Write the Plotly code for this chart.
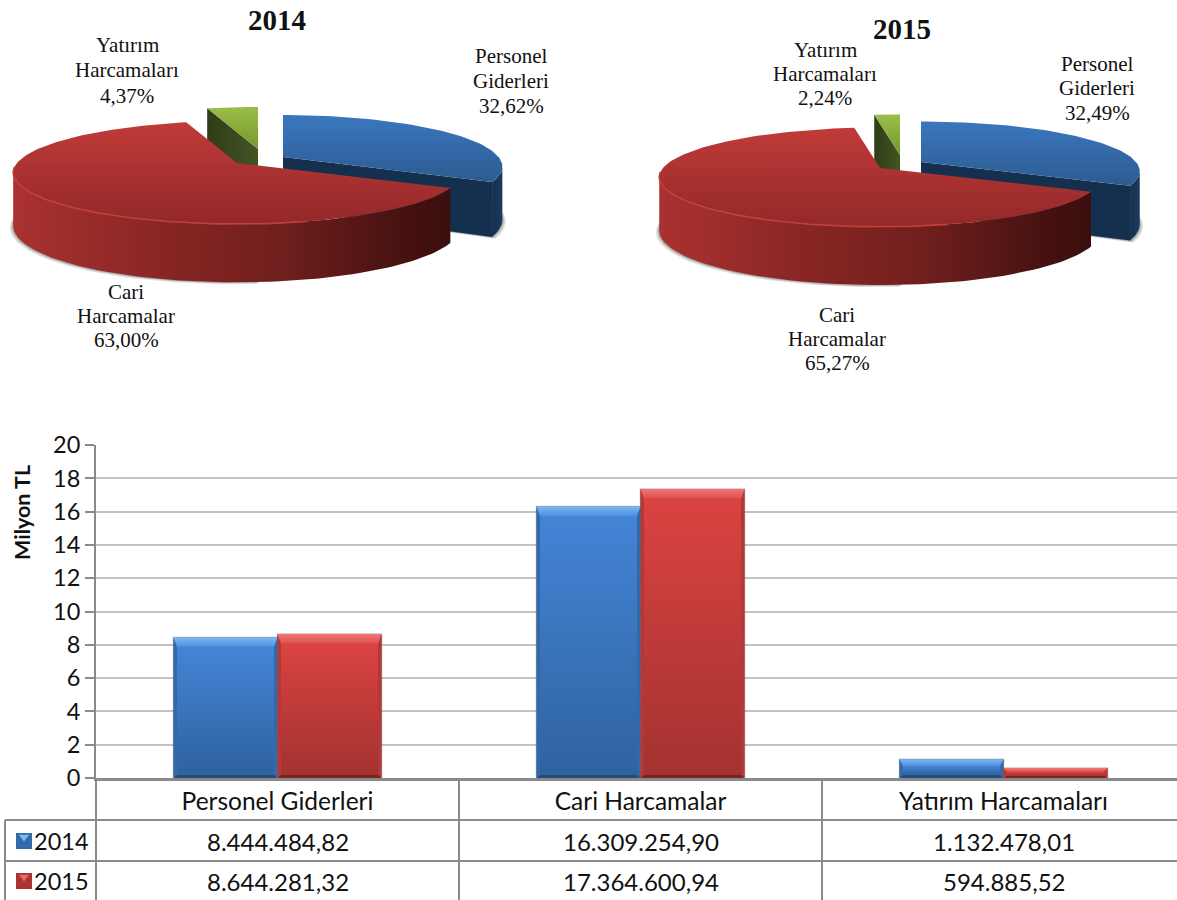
import numpy as np
import plotly.graph_objects as go

# ---------- data ----------
categories = ["Personel Giderleri", "Cari Harcamalar", "Yatırım Harcamaları"]
years = ["2014", "2015"]
tl_2014 = [8444484.82, 16309254.90, 1132478.01]
tl_2015 = [8644281.32, 17364600.94, 594885.52]
share_2014 = [32.62, 63.00, 4.37]
share_2015 = [32.49, 65.27, 2.24]
pie_names = [["Personel", "Giderleri"], ["Cari", "Harcamalar"], ["Yatırım", "Harcamaları"]]
y_ticks = [0, 2, 4, 6, 8, 10, 12, 14, 16, 18, 20]
y_title = "Milyon TL"


def tr_number(v):
    s = f"{v:,.2f}"
    return s.replace(",", "#").replace(".", ",").replace("#", ".")


def tr_share(v):
    return f"{v:.2f}".replace(".", ",")


W, H = 1177, 900
X0, XCAT, Y0, Y20 = 96, 363, 778, 445
SERIF = "Liberation Serif"
SANS = "Lato"
TXT = "#111111"
GRID = "#c2c2c2"
AX = "#8a8a8a"

fig = go.Figure()


def poly(xs, ys, c0, c1=None, kind="vertical", axes=("x2", "y2")):
    """Filled polygon on the given axes, optionally with a gradient."""
    kw = {}
    if c1 is None:
        kw["fillcolor"] = c0
    elif isinstance(c0, list):
        kw["fillgradient"] = dict(type=kind, colorscale=c0)
    else:
        kw["fillgradient"] = dict(type=kind, colorscale=[[0, c0], [1, c1]])
    fig.add_trace(go.Scatter(x=list(xs), y=list(ys), mode="lines", line=dict(width=0),
                             fill="toself", xaxis=axes[0], yaxis=axes[1],
                             hoverinfo="skip", showlegend=False, **kw))


# ---------- bars (main axes) ----------
bar_colors = {"2014": "#3f7cc8", "2015": "#cf4240"}
face = {"2014": ("#2f639f", "#4484d6"), "2015": ("#a33230", "#da4341")}
bevel_top = {"2014": ("#4f8fdc", "#7cb8f4"), "2015": ("#dc5250", "#f27573")}
bevel_side = {"2014": "#3468a8", "2015": "#b23937"}
bevel_bot = {"2014": "#244c7c", "2015": "#7a2321"}
BAR_W = 104 / XCAT
px_x = 1 / XCAT
px_y = 20 / (Y0 - Y20)

for yr, vals, off in ((years[0], tl_2014, -BAR_W / 2), (years[1], tl_2015, BAR_W / 2)):
    mil = [v / 1e6 for v in vals]
    fig.add_trace(go.Bar(x=[0, 1, 2], y=mil, name=yr, marker=dict(color=bar_colors[yr],
                         line=dict(color="rgba(60,60,60,0.28)", width=1.5)),
                         hoverinfo="skip", showlegend=False, offsetgroup=yr,
                         xaxis="x", yaxis="y"))
    for i, h in enumerate(mil):
        xl, xr = i + off - BAR_W / 2, i + off + BAR_W / 2
        s = 3.5 * px_x
        t = min(9.5 * px_y, h * 0.38)
        b = min(3.5 * px_y, h * 0.25)
        ax = ("x", "y")
        poly([xl, xr, xr - s, xl + s, xl], [0, 0, b, b, 0], bevel_bot[yr], axes=ax)
        poly([xl, xl + s, xl + s, xl, xl], [0, b, h - t, h, 0], bevel_side[yr], axes=ax)
        poly([xr, xr - s, xr - s, xr, xr], [0, b, h - t, h, 0], bevel_side[yr], axes=ax)
        poly([xl + s, xr - s, xr - s, xl + s, xl + s], [b, b, h - t, h - t, b],
             face[yr][0], face[yr][1], axes=ax)
        poly([xl, xr, xr - s, xl + s, xl], [h, h, h - t, h - t, h],
             bevel_top[yr][0], bevel_top[yr][1], axes=ax)


# ---------- 3-D pies (overlay pixel axes) ----------
def pie3d(shares, cx, cy, rx, ry, p, d0, blue_off, blue_rx, green_off):
    def pt(theta_deg, off=(0, 0), drop=False, r=rx):
        th = np.radians(np.asarray(theta_deg, dtype=float))
        u, v = np.sin(th), -np.cos(th)
        w = 1 - p * v
        X = cx + off[0] + r * u / w
        Y = cy + off[1] + ry * v / w
        if drop:
            Y = Y + d0 * (1 + 0.12 * v)
        return X, Y

    a1 = shares[0] * 3.6
    a2 = a1 + shares[1] * 3.6
    edge = np.degrees(np.arccos(p))
    right_ext, left_ext = 180 - edge, 180 + edge
    bx, by = cx + blue_off[0], cy + blue_off[1]

    # soft shadows, mostly hidden behind the walls
    for grow, alpha in ((3.5, 0.12), (2.2, 0.18), (1.0, 0.25)):
        th = np.linspace(175, 286, 70)
        xs, ys = pt(th, drop=True)
        poly(np.r_[xs - grow, cx], np.r_[ys + grow * 0.6, cy + d0], f"rgba(60,60,60,{alpha})")
        th = np.linspace(72, a1, 30)
        xs, ys = pt(th, off=blue_off, drop=True, r=blue_rx)
        poly(np.r_[xs + grow, bx], np.r_[ys + grow * 0.6, by + d0], f"rgba(60,60,60,{alpha})")

    # green slice: cut face then top
    ax_, ay_ = cx + green_off[0], cy + green_off[1]
    ex, ey = pt(a2, off=green_off)
    ex2, ey2 = pt(a2, off=green_off, drop=True)
    poly([ax_, ex, ex2, ax_, ax_], [ay_, ey, ey2, ay_ + d0, ay_], "#2f3c18", "#445524", "horizontal")
    th = np.linspace(a2, 360, 24)
    xs, ys = pt(th, off=green_off)
    poly(np.r_[ax_, xs, ax_], np.r_[ay_, ys, ay_], "#77962f", "#9abf48")

    # blue slice: right wall, cut face, top
    th = np.linspace(right_ext, a1, 14)
    xs, ys = pt(th, off=blue_off, r=blue_rx)
    xb, yb = pt(th, off=blue_off, drop=True, r=blue_rx)
    poly(np.r_[xs, xb[::-1]], np.r_[ys, yb[::-1]], "#16304f", "#1b3a5c", "horizontal")
    ex, ey = pt(a1, off=blue_off, r=blue_rx)
    ex2, ey2 = pt(a1, off=blue_off, drop=True, r=blue_rx)
    poly([bx, ex, ex2, bx, bx], [by, ey, ey2, by + d0, by], "#15304f")
    th = np.linspace(0, a1, 70)
    xs, ys = pt(th, off=blue_off, r=blue_rx)
    poly(np.r_[bx, xs, bx], np.r_[by, ys, by], "#2c5b90", "#3b77bf")

    # red slice: outer wall, top, rim highlight
    th = np.linspace(a1, left_ext, 90)
    xs, ys = pt(th)
    xb, yb = pt(th, drop=True)
    poly(np.r_[xs, xb[::-1]], np.r_[ys, yb[::-1]],
         [[0, "#aa3230"], [0.3, "#8c2725"], [0.62, "#6f1f1d"], [0.9, "#451110"], [1, "#3a0f0d"]],
         "x", "horizontal")
    th = np.linspace(a1, a2, 140)
    xs, ys = pt(th)
    poly(np.r_[cx, xs, cx], np.r_[cy, ys, cy], "#932829", "#c03b38")
    th = np.linspace(165, left_ext + 6, 70)
    xs, ys = pt(th)
    fig.add_trace(go.Scatter(x=xs, y=ys, mode="lines", line=dict(color="#c2403c", width=1.6),
                             xaxis="x2", yaxis="y2", hoverinfo="skip", showlegend=False))


pie3d(share_2014, 237, 163, 220, 49.8, 0.184, 52, (46, -6), 215.6, (21, -14))
pie3d(share_2015, 880, 168, 217, 48, 0.184, 52, (41, -6), 215, (20, -13))

# ---------- legend keys in the table ----------
for yr, yy, c, l in ((years[0], 841, "#336aa8", "#7fb6ee"), (years[1], 881, "#a83331", "#ee6664")):
    fig.add_trace(go.Scatter(x=[24], y=[yy], mode="markers", xaxis="x2", yaxis="y2",
                             marker=dict(symbol="square", size=16, color=c), hoverinfo="skip",
                             showlegend=False))
    fig.add_trace(go.Scatter(x=[24], y=[yy - 4], mode="markers", xaxis="x2", yaxis="y2",
                             marker=dict(symbol="triangle-down", size=9, color=l), hoverinfo="skip",
                             showlegend=False))

# ---------- text ----------
ann = []


def label(x, y, text, size, family, angle=0):
    ann.append(dict(x=x, y=y, xref="x2", yref="y2", text=text, showarrow=False,
                    font=dict(size=size, family=family, color=TXT), textangle=angle,
                    xanchor="center", yanchor="middle", align="center"))


label(277, 20, "<b>2014</b>", 29, SERIF)
label(902, 29, "<b>2015</b>", 29, SERIF)
pie_label_pos = (((511, 81, 25), (126, 316, 24), (127, 70, 25.5)),
                 ((1097, 88, 24.5), (837, 339, 24), (825, 74, 24)))
for shares, pos in zip((share_2014, share_2015), pie_label_pos):
    for nm, sh, (px, py, sp) in zip(pie_names, shares, pos):
        label(px, py - sp, nm[0], 21, SERIF)
        label(px, py, nm[1], 21, SERIF)
        label(px, py + sp, f"{tr_share(sh)}%", 21, SERIF)

label(22, 513, f"<b>{y_title}</b>", 21.5, SANS, -90)
for i, v in enumerate(tl_2014):
    label(X0 + XCAT * (i + 0.5), 841, tr_number(v), 24, SANS)
for i, v in enumerate(tl_2015):
    label(X0 + XCAT * (i + 0.5), 881, tr_number(v), 24, SANS)
label(61, 841, years[0], 23.5, SANS)
label(61, 881, years[1], 23.5, SANS)

# ---------- table lines ----------
shapes = []
line = dict(color=AX, width=2)
for yy in (820, 861):
    shapes.append(dict(type="line", xref="x2", yref="y2", x0=5, x1=W, y0=yy, y1=yy, line=line))
for xx in (X0, X0 + XCAT, X0 + 2 * XCAT):
    shapes.append(dict(type="line", xref="x2", yref="y2", x0=xx, x1=xx, y0=Y0, y1=H, line=line))
shapes.append(dict(type="line", xref="x2", yref="y2", x0=5, x1=5, y0=820, y1=H, line=line))

fig.update_layout(
    width=W, height=H, margin=dict(l=0, r=0, t=0, b=0),
    paper_bgcolor="white", plot_bgcolor="rgba(0,0,0,0)",
    barmode="group", bargap=1 - 208 / XCAT, bargroupgap=0,
    showlegend=False, annotations=ann, shapes=shapes,
    xaxis=dict(domain=[X0 / W, 1], range=[-0.5, -0.5 + (W - X0) / XCAT], anchor="y",
               tickmode="array", tickvals=[0, 1, 2], ticktext=categories,
               tickfont=dict(size=24.5, family=SANS, color=TXT), ticks="", ticklen=0,
               showgrid=False, showline=True, linecolor=AX, linewidth=2.5, zeroline=False,
               automargin=False),
    yaxis=dict(domain=[(H - Y0) / H, (H - Y20) / H], range=[0, 20], anchor="x",
               tickmode="array", tickvals=y_ticks, ticks="outside", ticklen=9, tickwidth=2,
               tickcolor=AX, tickfont=dict(size=23.5, family=SANS, color=TXT),
               showgrid=True, gridcolor=GRID, gridwidth=2, showline=True, linecolor=AX,
               linewidth=2, zeroline=False, automargin=False),
    xaxis2=dict(domain=[0, 1], range=[0, W], anchor="y2", visible=False, fixedrange=True),
    yaxis2=dict(domain=[0, 1], range=[H, 0], anchor="x2", visible=False, fixedrange=True),
)

fig.write_html("out.html", config=dict(displayModeBar=False),
               post_script="document.body.style.margin='0';")
